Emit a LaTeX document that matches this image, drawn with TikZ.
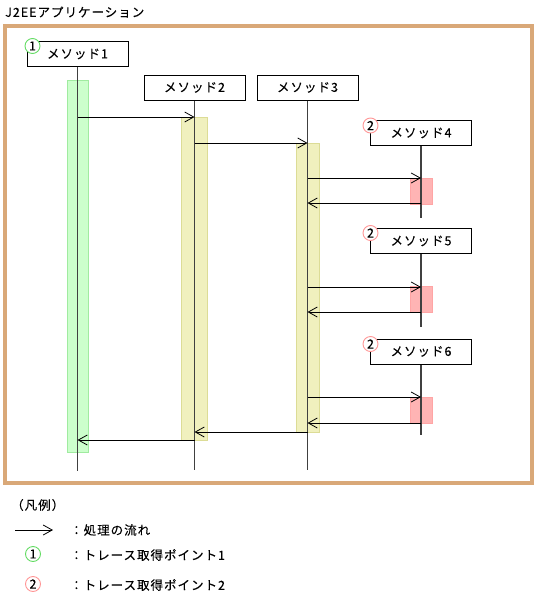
\documentclass[tikz,border=0pt]{standalone}
\usepackage{fontspec}
\newfontfamily\jp[LetterSpace=8,FakeBold=0.2]{Noto Sans CJK JP}
\usetikzlibrary{arrows.meta}
\definecolor{framec}{RGB}{217,168,120}
\definecolor{gfill}{RGB}{204,255,204}
\definecolor{gedge}{RGB}{160,235,160}
\definecolor{yfill}{RGB}{240,240,190}
\definecolor{yedge}{RGB}{220,220,150}
\definecolor{rfill}{RGB}{255,180,180}
\definecolor{redge}{RGB}{255,165,165}
\definecolor{cgreen}{RGB}{100,220,100}
\definecolor{cpink}{RGB}{255,150,150}
\begin{document}
\begin{tikzpicture}[x=1pt,y=-1pt,
  box/.style={draw=black,line width=1pt,fill=white,minimum width=101pt,minimum height=25pt,inner sep=0pt,font=\jp\fontsize{12.5}{14}\selectfont},
  life/.style={draw=black!75,line width=1.1pt},
  msg/.style={draw=black,line width=0.9pt,-{Straight Barb[length=9pt,width=10pt,line width=0.8pt]}},
  txt/.style={inner sep=0pt,anchor=west,font=\jp\fontsize{12.5}{14}\selectfont},
  tpmark/.style={circle,fill=white,line width=0.9pt,minimum size=15pt,inner sep=0pt,font=\jp\fontsize{12.5}{12}\selectfont},
  markg/.style={tpmark,draw=cgreen},
  markp/.style={tpmark,draw=cpink},
  actg/.style={fill=gfill,draw=gedge,line width=0.8pt},
  acty/.style={fill=yfill,draw=yedge,line width=0.8pt},
  actr/.style={fill=rfill,draw=redge,line width=0.8pt}
]
\useasboundingbox (0,0) rectangle (536,597);
% title and frame
\node[txt] (title) at (5,12) {J2EEアプリケーション};
\draw[framec,line width=4pt] (5,25.5) rectangle (532,482.5);
% activation bars
\draw[actg] (67,80) rectangle (88,452);
\draw[acty] (181,117) rectangle (207,440);
\draw[acty] (296,143) rectangle (319,432);
\draw[actr] (410,178) rectangle (432,204);
\draw[actr] (410,286) rectangle (432,312);
\draw[actr] (410,397) rectangle (432,423);
% boxes
\node[box] (b1) at (77.5,54) {メソッド1};
\node[box] (b2) at (194.5,87.5) {メソッド2};
\node[box] (b3) at (307.5,87.5) {メソッド3};
\node[box] (b4) at (421,133) {メソッド4};
\node[box] (b5) at (421,241) {メソッド5};
\node[box] (b6) at (421,351.5) {メソッド6};
% lifelines
\coordinate (e1) at (77.5,471);
\coordinate (e2) at (194.5,470);
\coordinate (e3) at (307.5,470);
\coordinate (e4) at (421,218);
\coordinate (e5) at (421,327);
\coordinate (e6) at (421,435);
\draw[life] (b1.south) -- (e1);
\draw[life] (b2.south) -- (e2);
\draw[life] (b3.south) -- (e3);
\draw[life] (b4.south) -- (e4);
\draw[life] (b5.south) -- (e5);
\draw[life] (b6.south) -- (e6);
% messages
\draw[msg] (b1.south |- 0,117) -- (b2.south |- 0,117);
\draw[msg] (b2.south |- 0,143) -- (b3.south |- 0,143);
\draw[msg] (b3.south |- 0,178) -- (b4.south |- 0,178);
\draw[msg] (b4.south |- 0,203) -- (b3.south |- 0,203);
\draw[msg] (b3.south |- 0,287) -- (b5.south |- 0,287);
\draw[msg] (b5.south |- 0,312) -- (b3.south |- 0,312);
\draw[msg] (b3.south |- 0,397) -- (b6.south |- 0,397);
\draw[msg] (b6.south |- 0,423) -- (b3.south |- 0,423);
\draw[msg] (b3.south |- 0,432) -- (b2.south |- 0,432);
\draw[msg] (b2.south |- 0,440) -- (b1.south |- 0,440);
% trace point marks
\node[markg] (m1) at (32.5,46) {1};
\node[markp] (m4) at (370.5,125.5) {2};
\node[markp] (m5) at (370.5,233) {2};
\node[markp] (m6) at (370.5,344) {2};
% legend
\node[txt] (leg) at (11,505) {（凡例）};
\coordinate (la) at (15,530);
\coordinate (lb) at (53,530);
\draw[msg] (la) -- (lb);
\node[txt] (t1) at (70,530) {：処理の流れ};
\node[markg] (lg1) at (33,554) {1};
\node[txt] (t2) at (70,555) {：トレース取得ポイント1};
\node[markp] (lg2) at (33,584) {2};
\node[txt] (t3) at (70,585) {：トレース取得ポイント2};
\end{tikzpicture}
\end{document}
